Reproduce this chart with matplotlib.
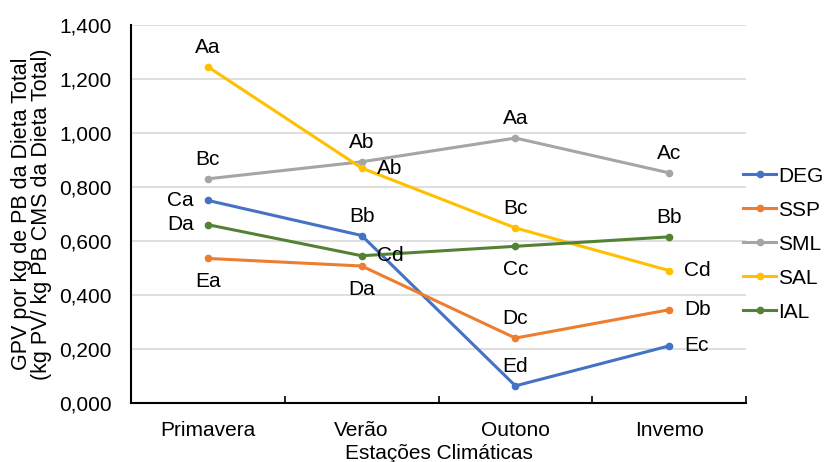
import matplotlib
matplotlib.use("Agg")
import matplotlib.pyplot as plt
from matplotlib.ticker import FuncFormatter, FixedLocator

plt.rcParams['font.family'] = ['Liberation Sans', 'DejaVu Sans']

estacoes = ['Primavera', 'Verão', 'Outono', 'Invemo']
series = ['DEG', 'SSP', 'SML', 'SAL', 'IAL']
valores = {
    'DEG': [0.750, 0.620, 0.063, 0.211],
    'SSP': [0.535, 0.507, 0.240, 0.345],
    'SML': [0.830, 0.893, 0.981, 0.852],
    'SAL': [1.245, 0.870, 0.648, 0.490],
    'IAL': [0.660, 0.545, 0.580, 0.615],
}
letras = {
    'DEG': ['Ca', 'Bb', 'Ed', 'Ec'],
    'SSP': ['Ea', 'Da', 'Dc', 'Db'],
    'SML': ['Bc', 'Ab', 'Aa', 'Ac'],
    'SAL': ['Aa', 'Ab', 'Bc', 'Cd'],
    'IAL': ['Da', 'Cd', 'Cc', 'Bb'],
}
cores = {'DEG': '#4472C4', 'SSP': '#ED7D31', 'SML': '#A5A5A5',
         'SAL': '#FFC000', 'IAL': '#548235'}

# posicao do rotulo: l=esquerda, r=direita, a=acima, b=abaixo
pos = {
    'DEG': ['l', 'a', 'a', 'r'],
    'SSP': ['b', 'b', 'a', 'r'],
    'SML': ['a', 'a', 'a', 'a'],
    'SAL': ['a', 'r', 'a', 'r'],
    'IAL': ['l', 'r', 'b', 'a'],
}
offs = {'l': ((-10, 0), 'right', 'center'),
        'r': ((11, 0), 'left', 'center'),
        'a': ((0, 7), 'center', 'bottom'),
        'b': ((0, -10), 'center', 'top')}

fs = 15

fig = plt.figure(figsize=(8.29, 4.62), dpi=100)
ax = fig.add_axes([0.158, 0.128, 0.742, 0.818])

x = list(range(len(estacoes)))
for s in series:
    ax.plot(x, valores[s], color=cores[s], lw=2.2, marker='o', ms=4.5,
            label=s, zorder=3)
    for i, (v, t) in enumerate(zip(valores[s], letras[s])):
        off, ha, va = offs[pos[s][i]]
        ax.annotate(t, (i, v), xytext=off, textcoords='offset points',
                    ha=ha, va=va, fontsize=fs, zorder=4)

ax.set_xlim(-0.5, 3.5)
ax.set_ylim(0, 1.4)
ax.set_yticks([0, 0.2, 0.4, 0.6, 0.8, 1.0, 1.2, 1.4])
ax.yaxis.set_major_formatter(FuncFormatter(lambda v, p: '{:.3f}'.format(v).replace('.', ',')))
ax.set_xticks(x)
ax.set_xticklabels(estacoes)
ax.xaxis.set_minor_locator(FixedLocator([-0.5, 0.5, 1.5, 2.5, 3.5]))
ax.tick_params(axis='x', which='major', length=0, pad=13, labelsize=fs)
ax.tick_params(axis='x', which='minor', direction='in', length=5, width=1.2)
ax.tick_params(axis='y', length=0, pad=14, labelsize=fs)

ax.grid(axis='y', color='#D9D9D9', lw=1.2)
ax.set_axisbelow(True)
for sp in ['top', 'right']:
    ax.spines[sp].set_visible(False)
for sp in ['left', 'bottom']:
    ax.spines[sp].set_linewidth(1.5)
    ax.spines[sp].set_color('black')

ax.set_xlabel('Estações Climáticas', fontsize=fs, labelpad=3)
ax.set_ylabel('GPV por kg de PB da Dieta Total\n(kg PV/ kg PB CMS da Dieta Total)',
              fontsize=15.5, labelpad=5, linespacing=0.95)

ax.legend(loc='center left', bbox_to_anchor=(0.995, 0.42), frameon=False,
          fontsize=fs, handlelength=1.6, handletextpad=0.1, labelspacing=0.72,
          borderaxespad=0, borderpad=0)

plt.savefig('out.png', dpi=100)
